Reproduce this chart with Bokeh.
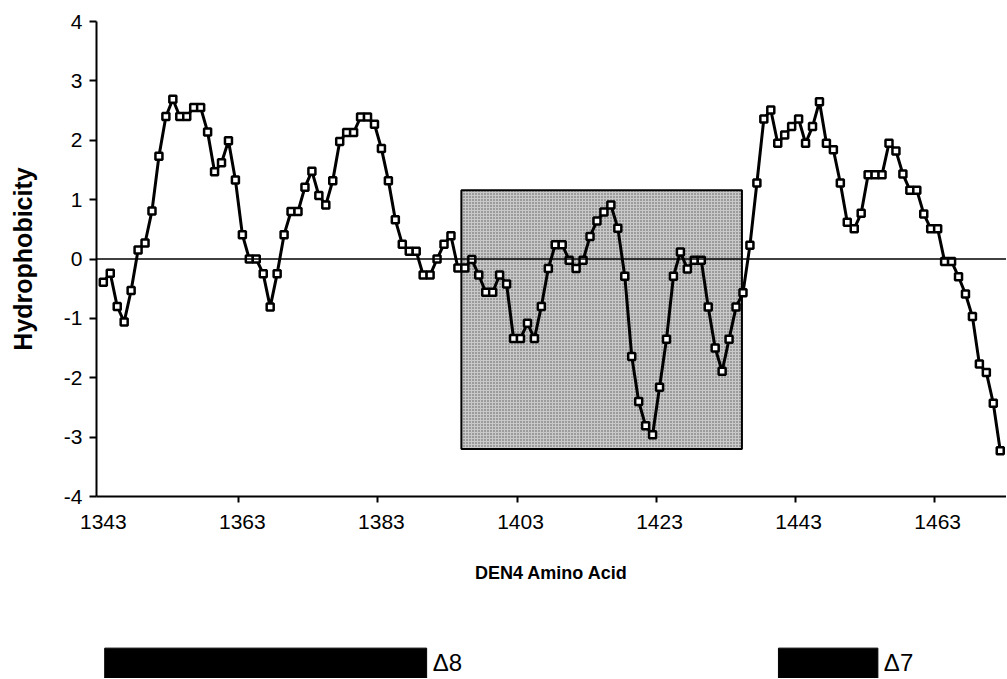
from bokeh.plotting import figure
from bokeh.models import Range1d, FixedTicker, Span, ColumnDataSource
from bokeh.layouts import column
from bokeh.core.properties import value
from bokeh.embed import file_html
from bokeh.resources import INLINE

# ---- data ----
start_residue = 1343
hydrophobicity = [
    -0.39, -0.24, -0.80, -1.06, -0.53, 0.15, 0.27, 0.81, 1.73, 2.40,
    2.69, 2.40, 2.40, 2.55, 2.55, 2.14, 1.47, 1.62, 1.99, 1.33,
    0.41, 0.00, 0.00, -0.25, -0.81, -0.25, 0.41, 0.80, 0.80, 1.21,
    1.48, 1.07, 0.91, 1.32, 1.98, 2.13, 2.13, 2.39, 2.39, 2.27,
    1.86, 1.32, 0.66, 0.25, 0.13, 0.13, -0.27, -0.27, 0.00, 0.25,
    0.39, -0.15, -0.15, -0.01, -0.27, -0.56, -0.56, -0.27, -0.42, -1.34,
    -1.34, -1.08, -1.34, -0.80, -0.16, 0.24, 0.24, -0.02, -0.16, -0.02,
    0.38, 0.64, 0.79, 0.91, 0.52, -0.29, -1.64, -2.40, -2.81, -2.96,
    -2.16, -1.35, -0.29, 0.12, -0.17, -0.02, -0.02, -0.81, -1.50, -1.89,
    -1.35, -0.81, -0.57, 0.23, 1.28, 2.36, 2.51, 1.95, 2.09, 2.23,
    2.36, 1.95, 2.23, 2.65, 1.95, 1.84, 1.28, 0.62, 0.51, 0.77,
    1.42, 1.42, 1.42, 1.95, 1.82, 1.43, 1.16, 1.16, 0.76, 0.51,
    0.51, -0.04, -0.04, -0.30, -0.59, -0.97, -1.77, -1.91, -2.43, -3.23,
]
residues = list(range(start_residue, start_residue + len(hydrophobicity)))

x_tick_labels = [1343, 1363, 1383, 1403, 1423, 1443, 1463]
x_tick_marks = [1362.5, 1382.5, 1402.5, 1422.5, 1442.5, 1462.5]
y_ticks = [-4, -3, -2, -1, 0, 1, 2, 3, 4]

# shaded region (amino-acid span, hydrophobicity span)
box_x = [1394.5, 1434.85]
box_y = [-3.2, 1.16]

# deletion bars
bar_labels = ["\u03948", "\u03947"]
bar_start = [1343.2, 1440.1]
bar_end = [1389.5, 1454.4]

FONT = value("Liberation Sans")
FONT_NAME = "Liberation Sans"

p = figure(
    x_range=Range1d(1342.02, 1472.9), y_range=Range1d(-4, 4),
    frame_width=910, frame_height=475,
    min_border_left=96, min_border_right=0, min_border_top=21, min_border_bottom=90,
    output_backend="svg", toolbar_location=None,
)
p.outline_line_color = None
p.grid.visible = False
p.background_fill_color = "white"
p.border_fill_color = "white"

p.quad(left=[box_x[0]], right=[box_x[1]], bottom=[box_y[0]], top=[box_y[1]],
       fill_color="#c9c9c9", line_color="black", line_width=2,
       hatch_pattern="dot", hatch_color="#555555", hatch_scale=3, hatch_weight=1)

p.add_layout(Span(location=0, dimension="width", line_color="black", line_width=1.6, level="glyph"))

src = ColumnDataSource(dict(x=residues, y=hydrophobicity))
p.line("x", "y", source=src, line_color="black", line_width=3)
p.scatter("x", "y", source=src, marker="square", size=7, line_color="black",
          line_width=2.5, fill_color="white")

# y axis
yax = p.yaxis[0]
yax.ticker = FixedTicker(ticks=y_ticks)
yax.major_label_overrides = {t: str(t) for t in y_ticks}
yax.axis_line_color = "black"
yax.axis_line_width = 2
yax.major_tick_line_color = "black"
yax.major_tick_line_width = 2
yax.major_tick_out = 7
yax.major_tick_in = 0
yax.minor_tick_line_color = None
yax.major_label_standoff = 7
yax.major_label_text_font = FONT_NAME
yax.major_label_text_font_size = "21px"
yax.major_label_text_color = "black"
yax.axis_label = "Hydrophobicity"
yax.axis_label_text_font = FONT_NAME
yax.axis_label_text_font_size = "25px"
yax.axis_label_text_font_style = "bold"
yax.axis_label_text_color = "black"
yax.axis_label_standoff = 24

# x axis
xax = p.xaxis[0]
xax.ticker = FixedTicker(ticks=x_tick_labels, minor_ticks=x_tick_marks)
xax.axis_line_color = "black"
xax.axis_line_width = 2
xax.major_tick_line_color = None
xax.major_tick_out = 6
xax.major_tick_in = 0
xax.minor_tick_line_color = "black"
xax.minor_tick_line_width = 2
xax.minor_tick_out = 6
xax.minor_tick_in = 0
xax.major_label_standoff = 12
xax.major_label_text_font = FONT_NAME
xax.major_label_text_font_size = "21px"
xax.major_label_text_color = "black"
xax.axis_label = "DEN4 Amino Acid"
xax.axis_label_text_font = FONT_NAME
xax.axis_label_text_font_size = "18px"
xax.axis_label_text_font_style = "bold"
xax.axis_label_text_color = "black"
xax.axis_label_standoff = 31

# bottom strip with deletion bars
p2 = figure(
    x_range=p.x_range, y_range=Range1d(0, 1),
    frame_width=910, frame_height=92,
    min_border_left=96, min_border_right=0, min_border_top=0, min_border_bottom=0,
    x_axis_type=None, y_axis_type=None,
    output_backend="svg", toolbar_location=None,
)
p2.outline_line_color = None
p2.grid.visible = False
bsrc = ColumnDataSource(dict(left=bar_start, right=bar_end, label=bar_labels))
p2.quad(left="left", right="right", bottom=0, top=0.33, source=bsrc,
        fill_color="black", line_color="black")
p2.text(x="right", y=0.17, text="label", source=bsrc, x_offset=6,
        text_baseline="middle", text_align="left", text_font=FONT,
        text_font_size="24px", text_color="black")

layout = column(p, p2, spacing=0)
open("out.html", "w").write(file_html(layout, INLINE))
